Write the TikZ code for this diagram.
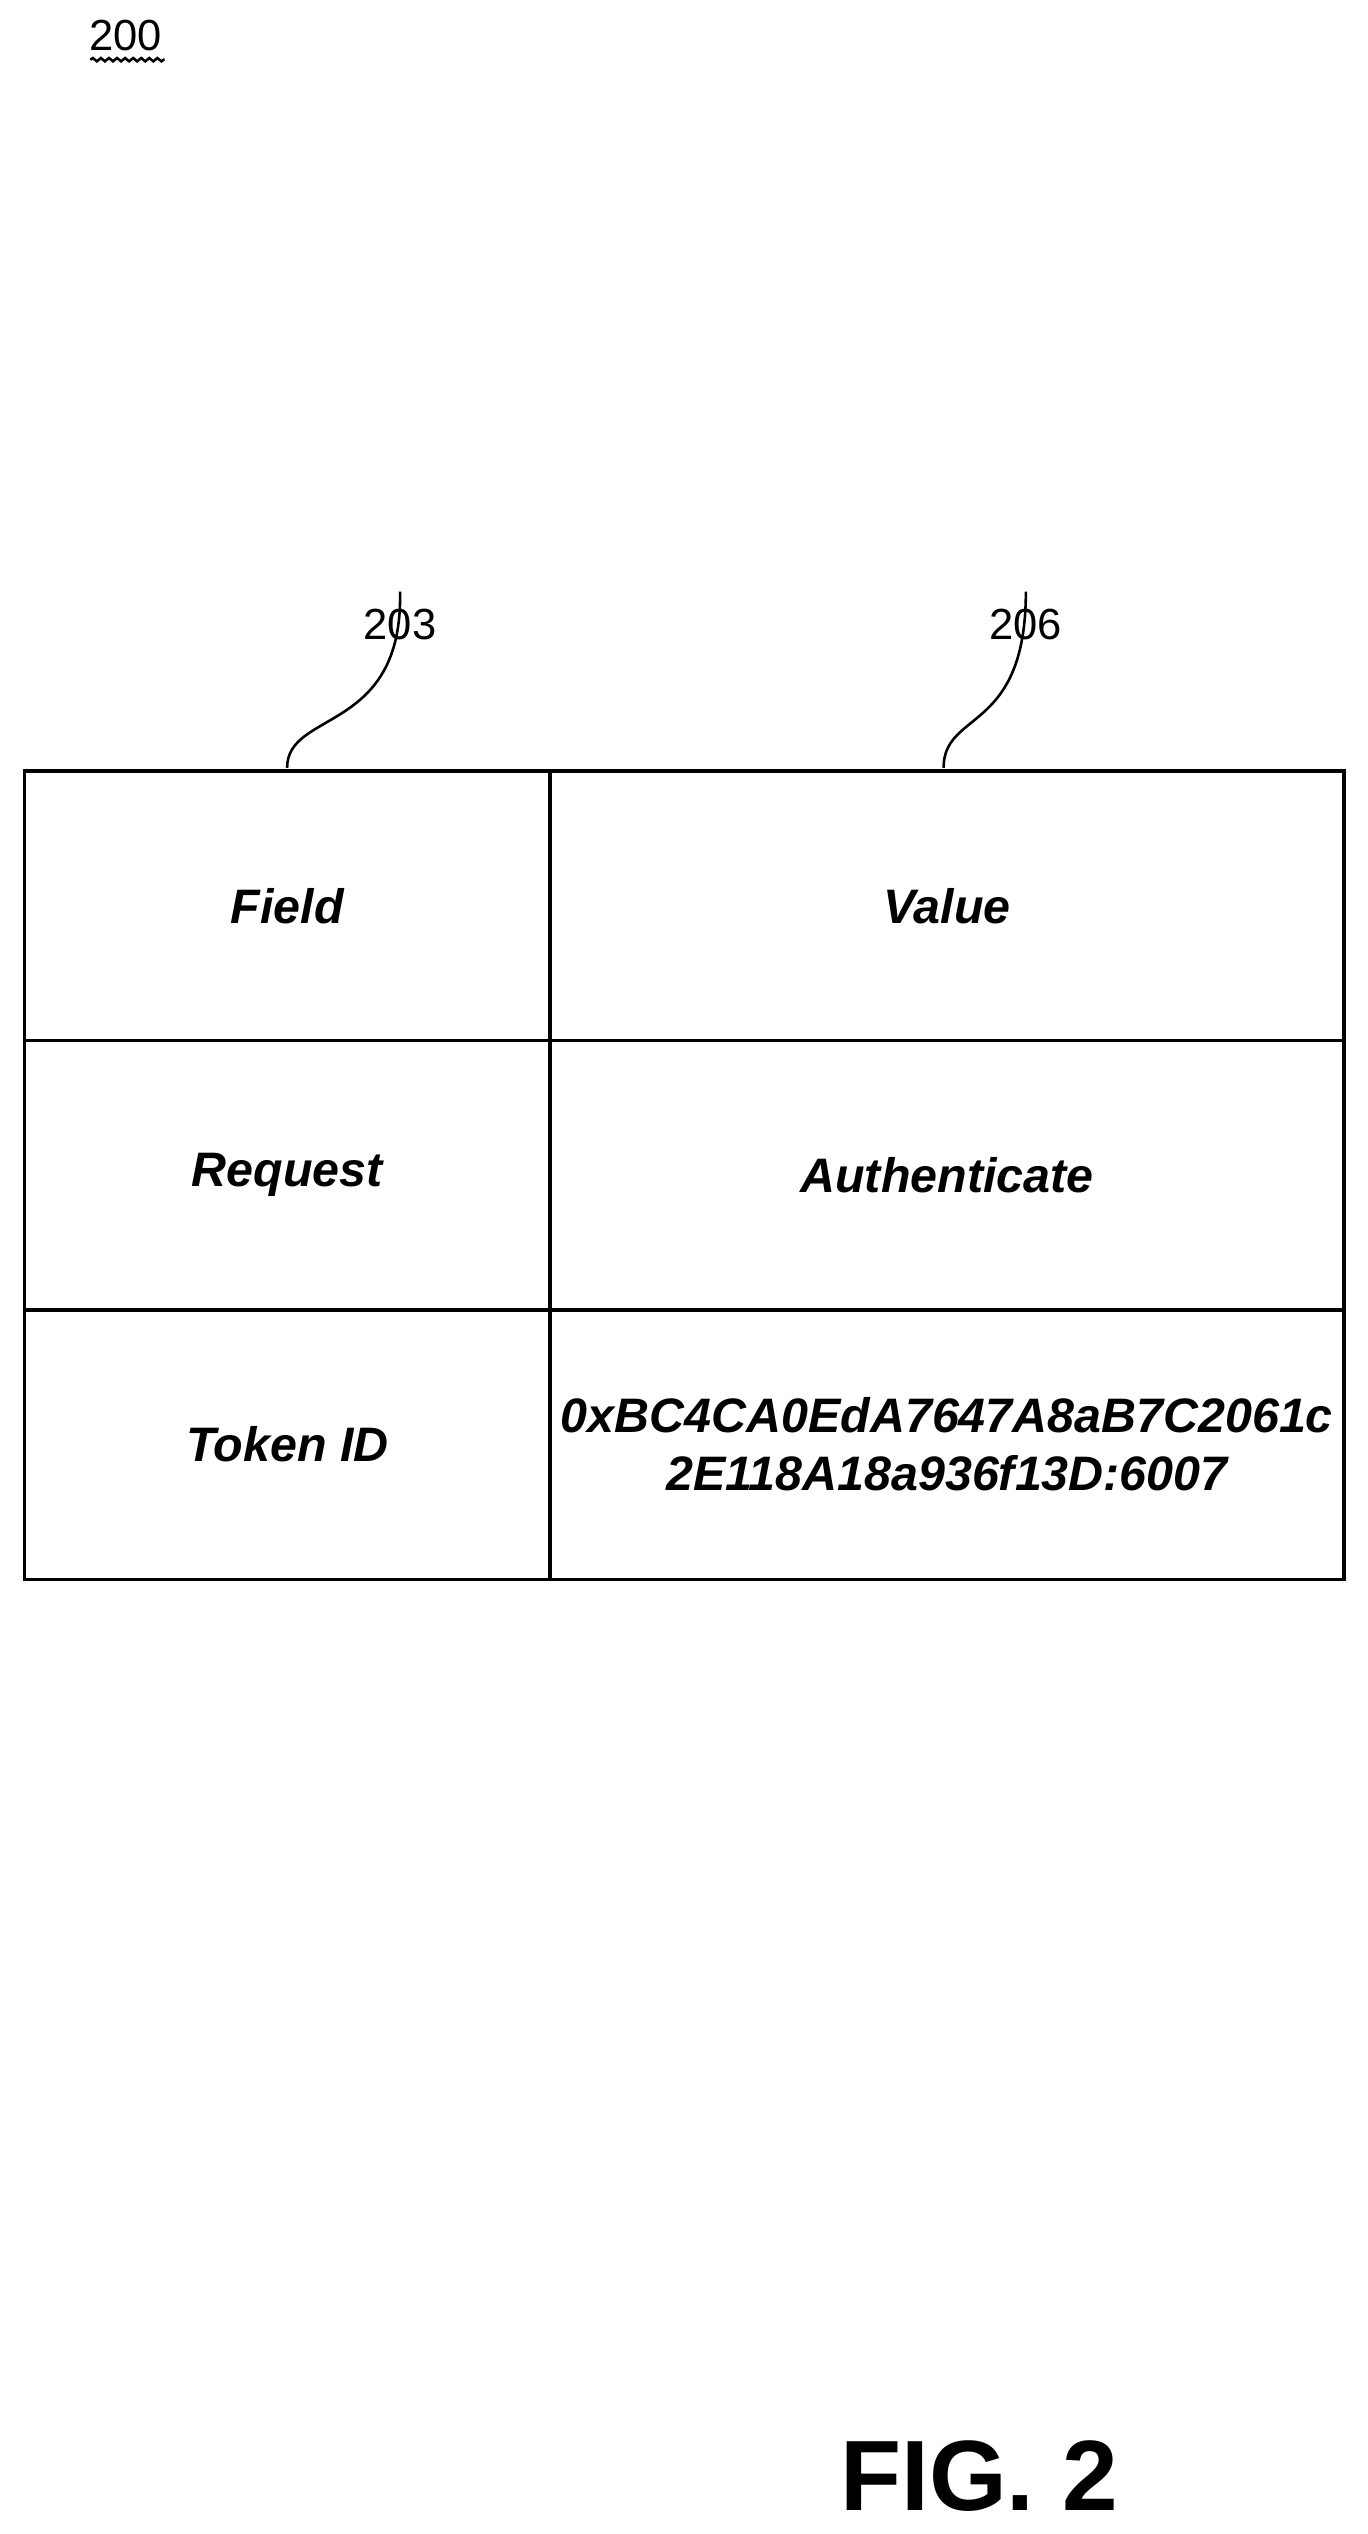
\documentclass[tikz,border=0pt]{standalone}
\usepackage{fontspec}
\setmainfont{Liberation Sans}
\usetikzlibrary{decorations.pathmorphing}
\begin{document}
\begin{tikzpicture}[x=1pt,y=-1pt,
  cell/.style={draw,line width=2.2pt,minimum width=#1,minimum height=167pt,inner sep=0pt,anchor=north west,font=\fontsize{30}{36}\selectfont\bfseries\itshape,align=center},
  lbl/.style={font=\fontsize{27}{32}\selectfont,inner sep=0pt},
  lead/.style={line width=1.6pt}]
\useasboundingbox (0,0) rectangle (848,1571);
\node[lbl] (n200) at (78,22) {200};
\draw[lead,decorate,decoration={snake,amplitude=1pt,segment length=5pt}] (56,37) -- (102,37);
\node[cell=326pt] (f1) at (14,477) {Field};
\node[cell=492pt] (v1) at (340,477) {Value};
\node[cell=326pt] (f2) at (14,644) {Request};
\node[cell=492pt] (v2) at (340,644) {Authenticate};
\node[cell=326pt] (f3) at (14,811) {Token ID};
\node[cell=492pt] (v3) at (340,811) {0xBC4CA0EdA7647A8aB7C2061c\\2E118A18a936f13D:6007};
\node[lbl] (l203) at (248,387) {203};
\node[lbl] (l206) at (636,387) {206};
\coordinate (c1) at (178,476);
\coordinate (c2) at (585,476);
\draw[lead] (c1) .. controls (178,440) and (250,455) .. ([yshift=30pt]l203.south);
\draw[lead] (c2) .. controls (585,440) and (636,455) .. ([yshift=30pt]l206.south);
\node[font=\fontsize{62}{70}\selectfont\bfseries,inner sep=0pt] (fig) at (607,1535) {FIG. 2};
\end{tikzpicture}
\end{document}
